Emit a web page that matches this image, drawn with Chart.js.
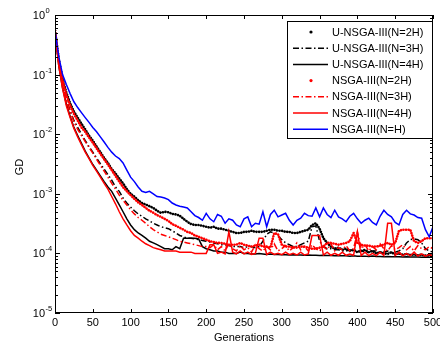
<!DOCTYPE html>
<html><head><meta charset="utf-8">
<script src="https://cdn.jsdelivr.net/npm/chart.js@4/dist/chart.umd.min.js"></script>
<style>html,body{margin:0;padding:0;background:#fff}#wrap{width:440px;height:345px}</style>
</head><body><div id="wrap"><canvas id="c" width="440" height="345"></canvas></div>
<script>
const generations = [0,5,10,15,20,25,30,35,40,45,50,55,60,65,70,75,80,85,90,95,100,105,110,115,120,125,130,135,140,145,150,155,160,165,170,175,180,185,190,195,200,205,210,215,220,225,230,235,240,245,250,255,260,265,270,275,280,285,290,295,300,305,310,315,320,325,330,335,340,345,350,355,360,365,370,375,380,385,390,395,400,405,410,415,420,425,430,435,440,445,450,455,460,465,470,475,480,485,490,495,500];

const seriesLabels = ['U-NSGA-III(N=2H)','U-NSGA-III(N=3H)','U-NSGA-III(N=4H)','NSGA-III(N=2H)','NSGA-III(N=3H)','NSGA-III(N=4H)','NSGA-III(N=H)'];

const uNsga2H = [0.55,0.18,0.085,0.05,0.033,0.024,0.019,0.015,0.012,0.0095,0.0078,0.0062,0.005,0.004,0.0033,0.0026,0.0022,0.0018,0.0015,0.0012,0.001,
9e-4,7.8e-4,7e-4,6.6e-4,6.2e-4,5.8e-4,5.2e-4,4.8e-4,5e-4,4.9e-4,4.6e-4,4.5e-4,4.3e-4,3.8e-4,3.4e-4,3.1e-4,3e-4,3e-4,2.9e-4,2.8e-4,
2.7e-4,2.8e-4,2.6e-4,2.6e-4,2.5e-4,2.4e-4,2.3e-4,2.2e-4,2.2e-4,2.3e-4,2.3e-4,2.4e-4,2.3e-4,2.3e-4,2.3e-4,2.4e-4,2.5e-4,2.5e-4,2.4e-4,2.4e-4,
2.3e-4,2.3e-4,2.2e-4,2.2e-4,2.3e-4,2.4e-4,2.5e-4,3.0e-4,3.2e-4,2.6e-4,1.8e-4,1.5e-4,1.3e-4,1.2e-4,1.25e-4,1.15e-4,1.2e-4,1.1e-4,1.15e-4,1.05e-4,
1.1e-4,1.15e-4,1.05e-4,1.1e-4,1e-4,1.05e-4,1e-4,9.8e-5,1.05e-4,9.6e-5,1e-4,9.5e-5,9.8e-5,9.4e-5,9.6e-5,9.3e-5,9.5e-5,9.2e-5,9.3e-5,9.2e-5];

const uNsga3H = [0.55,0.16,0.07,0.038,0.025,0.017,0.013,0.01,0.0078,0.0062,0.005,0.004,0.0032,0.0026,0.0021,0.0017,0.0013,0.0011,8.5e-4,7e-4,6e-4,
5.2e-4,4.6e-4,4.2e-4,3.8e-4,3.5e-4,3.2e-4,3e-4,2.8e-4,2.7e-4,2.6e-4,2.4e-4,2.2e-4,2e-4,1.9e-4,1.8e-4,1.8e-4,1.75e-4,1.7e-4,1.65e-4,1.6e-4,
1.55e-4,1.5e-4,1.45e-4,1.4e-4,1.4e-4,1.35e-4,1.3e-4,1.3e-4,1.3e-4,1.25e-4,1.3e-4,1.3e-4,1.25e-4,1.3e-4,1.6e-4,2.1e-4,2.3e-4,2.2e-4,2e-4,1.7e-4,
1.5e-4,1.4e-4,1.3e-4,1.3e-4,1.4e-4,1.5e-4,1.6e-4,2.8e-4,2.9e-4,1.6e-4,1.3e-4,1.2e-4,1.2e-4,1.15e-4,1.15e-4,1.1e-4,1.1e-4,1.15e-4,1.1e-4,1.1e-4,
1.1e-4,1.05e-4,1.05e-4,1.1e-4,1.1e-4,1.05e-4,1.05e-4,1.1e-4,1.05e-4,1.05e-4,1.1e-4,1.2e-4,1.5e-4,1.7e-4,1.75e-4,1.7e-4,1.5e-4,1.2e-4,1.1e-4,1.05e-4];

const uNsga4H = [0.55,0.14,0.06,0.032,0.02,0.013,0.0095,0.007,0.0052,0.004,0.0031,0.0025,0.002,0.0016,0.0013,0.0011,8.5e-4,6.5e-4,5e-4,3.8e-4,3e-4,
2.5e-4,2.2e-4,2e-4,1.8e-4,1.6e-4,1.5e-4,1.4e-4,1.3e-4,1.2e-4,1.2e-4,1.15e-4,1.3e-4,1.2e-4,1.8e-4,1.8e-4,1.8e-4,1.8e-4,1.75e-4,1.3e-4,1.2e-4,
1.15e-4,1.1e-4,1.1e-4,1.05e-4,1.05e-4,1e-4,1e-4,1e-4,1.05e-4,1e-4,1e-4,9.8e-5,9.8e-5,1e-4,9.8e-5,9.6e-5,9.8e-5,9.6e-5,9.6e-5,9.5e-5,
9.5e-5,9.4e-5,9.5e-5,9.4e-5,9.4e-5,9.3e-5,9.4e-5,9.3e-5,9.3e-5,9.2e-5,9.3e-5,9.2e-5,9.2e-5,9.1e-5,9.2e-5,9.1e-5,9.1e-5,9e-5,9.1e-5,9e-5,
9e-5,9e-5,8.9e-5,9e-5,8.9e-5,8.9e-5,8.8e-5,8.9e-5,8.8e-5,8.8e-5,8.8e-5,8.7e-5,8.8e-5,8.7e-5,8.7e-5,8.7e-5,8.6e-5,8.7e-5,8.6e-5,8.6e-5];

const nsga2H = [0.55,0.17,0.08,0.045,0.03,0.022,0.017,0.013,0.011,0.0088,0.0072,0.0058,0.0047,0.0038,0.0031,0.0025,0.002,0.0016,0.0013,0.0011,9.5e-4,
8.2e-4,7.2e-4,6.5e-4,5.8e-4,5.2e-4,4.8e-4,4.4e-4,4.1e-4,3.8e-4,3.5e-4,3.1e-4,2.9e-4,2.7e-4,2.5e-4,2.3e-4,2.2e-4,2e-4,1.9e-4,1.8e-4,1.7e-4,
1.6e-4,1.55e-4,1.5e-4,1.5e-4,1.45e-4,1.4e-4,1.4e-4,1.4e-4,1.5e-4,1.4e-4,1.35e-4,1.3e-4,1.35e-4,1.4e-4,1.3e-4,1.3e-4,1.25e-4,2.2e-4,2.1e-4,1.4e-4,
1.3e-4,1.3e-4,1.25e-4,1.25e-4,1.3e-4,1.3e-4,1.25e-4,1.2e-4,1.2e-4,1.25e-4,1.3e-4,1.5e-4,1.5e-4,1.45e-4,1.4e-4,1.45e-4,1.5e-4,1.6e-4,2.2e-4,1.5e-4,
1.4e-4,1.35e-4,1.35e-4,1.3e-4,1.3e-4,1.35e-4,1.4e-4,1.5e-4,1.4e-4,1.5e-4,2.4e-4,2.5e-4,2.5e-4,2.5e-4,1.6e-4,1.5e-4,1.6e-4,1.8e-4,1.8e-4,1.8e-4];

const nsga3H = [0.55,0.16,0.068,0.036,0.024,0.016,0.012,0.0095,0.0075,0.006,0.0048,0.0038,0.003,0.0024,0.0019,0.0015,0.0012,9.5e-4,7.8e-4,6.5e-4,5.4e-4,
4.6e-4,4e-4,3.6e-4,3.2e-4,2.8e-4,2.5e-4,2.3e-4,2.1e-4,2e-4,1.9e-4,1.8e-4,1.7e-4,1.6e-4,1.55e-4,1.5e-4,1.45e-4,1.4e-4,1.35e-4,1.3e-4,1.3e-4,
1.25e-4,1.4e-4,1.15e-4,1.3e-4,1.1e-4,1.45e-4,1.2e-4,1.1e-4,1.35e-4,1.15e-4,1.25e-4,1.05e-4,1.4e-4,1.2e-4,1.1e-4,1.3e-4,1.15e-4,1.45e-4,1.1e-4,1.2e-4,
1.35e-4,1.1e-4,1.25e-4,1.5e-4,1.15e-4,1.3e-4,1.1e-4,1.4e-4,1.2e-4,1.1e-4,1.3e-4,1.15e-4,1.45e-4,1.1e-4,1.25e-4,1.15e-4,1.35e-4,1.1e-4,1.2e-4,2.3e-4,
1.2e-4,1.4e-4,1.1e-4,1.3e-4,1.15e-4,1.45e-4,1.2e-4,1.1e-4,1.35e-4,1.15e-4,1.25e-4,1.4e-4,1.15e-4,1.3e-4,1.1e-4,1.35e-4,1.2e-4,1.15e-4,1.3e-4,1.2e-4];

const nsga4H = [0.55,0.14,0.058,0.03,0.019,0.0125,0.009,0.0067,0.005,0.0039,0.003,0.0024,0.0019,0.0015,0.0012,9e-4,6.8e-4,5e-4,3.8e-4,3e-4,2.4e-4,
2e-4,1.8e-4,1.6e-4,1.45e-4,1.35e-4,1.25e-4,1.2e-4,1.15e-4,1.1e-4,1.1e-4,1.1e-4,1.1e-4,1.05e-4,1.05e-4,1.05e-4,1.05e-4,1e-4,1e-4,1e-4,1e-4,
1.4e-4,1.4e-4,1e-4,1.05e-4,9.8e-5,2.3e-4,1.05e-4,9.8e-5,1.1e-4,9.8e-5,1.05e-4,9.6e-5,1e-4,1.8e-4,1.8e-4,9.6e-5,1.05e-4,9.6e-5,1e-4,9.5e-5,
1.05e-4,9.5e-5,1e-4,9.4e-5,1.05e-4,9.4e-5,9.8e-5,2e-4,2e-4,2e-4,9.4e-5,1.05e-4,9.3e-5,1e-4,9.3e-5,1.05e-4,9.3e-5,9.8e-5,9.3e-5,2.3e-4,
9.2e-5,1.05e-4,9.2e-5,1e-4,9.2e-5,1.05e-4,9.2e-5,3.2e-4,3.2e-4,9.2e-5,1.05e-4,9.1e-5,1e-4,9.1e-5,1.05e-4,9e-5,9.8e-5,9e-5,9.6e-5,9e-5];

const nsgaH = [0.55,0.2,0.1,0.068,0.048,0.035,0.028,0.023,0.019,0.0158,
0.013,0.011,0.009,0.0074,0.006,0.005,0.0043,0.0039,0.0033,0.0025,
0.0019,0.0016,0.0013,0.0011,0.00105,0.0011,0.001,0.0009,0.00088,0.00085,
0.0008,0.0007,0.00065,0.00062,0.0006,0.00058,0.0005,0.00043,0.0004,0.00036,
0.00047,0.00038,0.00034,0.00045,0.00042,0.00032,0.00038,0.00036,0.0003,0.00028,
0.00038,0.00041,0.00028,0.00032,0.00031,0.0005,0.00028,0.00045,0.00053,0.00041,
0.00044,0.00047,0.00036,0.0003,0.00036,0.00039,0.00047,0.00043,0.00042,0.00058,
0.00041,0.00058,0.00045,0.0004,0.00053,0.00041,0.00038,0.00034,0.00042,0.00047,
0.00038,0.00032,0.00036,0.00039,0.00033,0.0003,0.00042,0.00053,0.00045,0.00041,
0.00033,0.0003,0.00045,0.00053,0.00046,0.00044,0.0004,0.00039,0.00025,0.00019,
0.00028];

const xTickValues = [0,50,100,150,200,250,300,350,400,450,500];
const yTickValues = [1,1e-1,1e-2,1e-3,1e-4,1e-5];
const yTickExponents = ['0','-1','-2','-3','-4','-5'];

const FONT = '"Liberation Sans", Arial, sans-serif';
const DOT = {dash:[0.01,2.6], width:2.6, cap:'round'};
const DASHDOT = [6,2.5,1.5,2.5];

function pts(arr){ return generations.map((g,i)=>({x:g,y:arr[i]})); }

const styles = [
  {color:'#000000', kind:'dot'},
  {color:'#000000', kind:'dashdot'},
  {color:'#000000', kind:'solid'},
  {color:'#ff0000', kind:'dot'},
  {color:'#ff0000', kind:'dashdot'},
  {color:'#ff0000', kind:'solid'},
  {color:'#0000ff', kind:'solid'}
];
const allSeries = [uNsga2H,uNsga3H,uNsga4H,nsga2H,nsga3H,nsga4H,nsgaH];

const datasets = allSeries.map((arr,i)=>{
  const s = styles[i];
  const d = {
    label: seriesLabels[i],
    data: pts(arr),
    borderColor: s.color,
    backgroundColor: s.color,
    pointRadius: 0,
    fill: false,
    tension: 0,
    order: 6 - i,
    borderWidth: 1.5,
    borderDash: [],
    borderCapStyle: 'butt'
  };
  if (s.kind === 'dot') { d.borderDash = DOT.dash; d.borderWidth = DOT.width; d.borderCapStyle = DOT.cap; }
  if (s.kind === 'dashdot') { d.borderDash = DASHDOT; d.borderWidth = 1.5; }
  return d;
});

const decor = {
  id: 'decor',
  afterDraw(chart) {
    const ctx = chart.ctx, a = chart.chartArea;
    const xs = chart.scales.x, ys = chart.scales.y;
    ctx.save();
    ctx.strokeStyle = '#000'; ctx.lineWidth = 1; ctx.setLineDash([]);
    ctx.strokeRect(a.left + 0.5, a.top + 0.5, a.right - a.left - 1, a.bottom - a.top - 1);
    ctx.beginPath();
    xTickValues.forEach(v => {
      const px = Math.round(xs.getPixelForValue(v)) + 0.5;
      ctx.moveTo(px, a.bottom); ctx.lineTo(px, a.bottom - 4);
      ctx.moveTo(px, a.top); ctx.lineTo(px, a.top + 4);
    });
    yTickValues.forEach((v, k) => {
      const py = Math.round(ys.getPixelForValue(v)) + 0.5;
      ctx.moveTo(a.left, py); ctx.lineTo(a.left + 5, py);
      ctx.moveTo(a.right, py); ctx.lineTo(a.right - 5, py);
      if (k < yTickValues.length - 1) {
        for (let m = 2; m <= 9; m++) {
          const my = Math.round(ys.getPixelForValue(v / 10 * m)) + 0.5;
          ctx.moveTo(a.left, my); ctx.lineTo(a.left + 3, my);
          ctx.moveTo(a.right, my); ctx.lineTo(a.right - 3, my);
        }
      }
    });
    ctx.stroke();
    ctx.fillStyle = '#000';
    ctx.font = '11px ' + FONT;
    ctx.textAlign = 'center'; ctx.textBaseline = 'middle';
    xTickValues.forEach(v => ctx.fillText(String(v), xs.getPixelForValue(v), a.bottom + 10));
    yTickValues.forEach((v, k) => {
      const py = ys.getPixelForValue(v);
      ctx.font = '11px ' + FONT;
      ctx.textAlign = 'right'; ctx.textBaseline = 'middle';
      ctx.fillText('10', 45, py + 1);
      ctx.font = '7.5px ' + FONT;
      ctx.textAlign = 'left';
      ctx.fillText(yTickExponents[k], 45.5, py - 4);
    });
    ctx.font = '11px ' + FONT;
    ctx.textAlign = 'center'; ctx.textBaseline = 'middle';
    ctx.fillText('Generations', (a.left + a.right) / 2, 338);
    ctx.save();
    ctx.translate(20, (a.top + a.bottom) / 2 + 3);
    ctx.rotate(-Math.PI / 2);
    ctx.fillText('GD', 0, 0);
    ctx.restore();
    const lx = 287, ly = 21, lw = 145, lh = 117;
    ctx.fillStyle = '#fff';
    ctx.fillRect(lx, ly, lw, lh);
    ctx.strokeStyle = '#000'; ctx.lineWidth = 1;
    ctx.strokeRect(lx + 0.5, ly + 0.5, lw, lh);
    chart.data.datasets.forEach((d, i) => {
      const y = 32 + i * 16.2;
      const s = styles[i];
      ctx.strokeStyle = s.color; ctx.fillStyle = s.color;
      if (s.kind === 'dot') {
        ctx.beginPath(); ctx.arc(311, y, 1.6, 0, Math.PI * 2); ctx.fill();
      } else {
        ctx.lineWidth = 1.5;
        ctx.setLineDash(s.kind === 'dashdot' ? DASHDOT : []);
        ctx.beginPath(); ctx.moveTo(293, y); ctx.lineTo(328, y); ctx.stroke();
        ctx.setLineDash([]);
      }
      ctx.fillStyle = '#000';
      ctx.font = '11px ' + FONT;
      ctx.textAlign = 'left'; ctx.textBaseline = 'middle';
      ctx.fillText(d.label, 332, y + 0.5);
    });
    ctx.restore();
  }
};

new Chart(document.getElementById('c'), {
  type: 'line',
  data: { datasets },
  options: {
    responsive: false,
    devicePixelRatio: 1,
    animation: false,
    layout: { padding: { top: 15, right: 7, left: 0, bottom: 0 } },
    plugins: { legend: { display: false }, tooltip: { enabled: false } },
    scales: {
      x: { type: 'linear', min: 0, max: 500,
           ticks: { display: false }, grid: { display: false }, border: { display: false },
           afterFit(s) { s.height = 32; } },
      y: { type: 'logarithmic', min: 1e-5, max: 1,
           ticks: { display: false }, grid: { display: false }, border: { display: false },
           afterFit(s) { s.width = 55; } }
    }
  },
  plugins: [decor]
});
</script>
</body></html>
